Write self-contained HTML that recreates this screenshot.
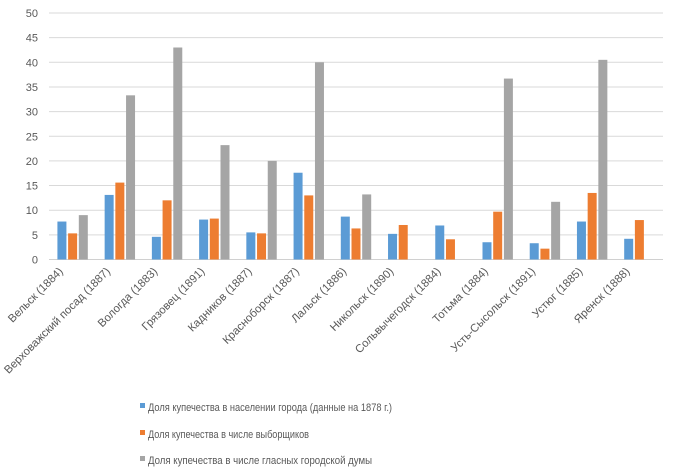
<!DOCTYPE html>
<html><head><meta charset="utf-8">
<style>
html,body{margin:0;padding:0;background:#fff;}
svg{display:block;font-family:"Liberation Sans","DejaVu Sans",sans-serif;}
</style></head>
<body>
<svg id="chart" width="677" height="469" viewBox="0 0 677 469">
<g id="grid"></g>
<g id="yaxis"></g>
<g id="bars"></g>
<g id="xaxis"></g>
<g id="legend"></g>
</svg>
<script>
const categories = ["Вельск (1884)","Верховажский посад (1887)","Вологда (1883)","Грязовец (1891)","Кадников (1887)","Красноборск (1887)","Лальск (1886)","Никольск (1890)","Сольвычегодск (1884)","Тотьма (1884)","Усть-Сысольск (1891)","Устюг (1885)","Яренск (1888)"];
const seriesPopulation = [7.7,13.1,4.6,8.1,5.5,17.6,8.7,5.2,6.9,3.5,3.3,7.7,4.2];
const seriesElectors = [5.3,15.6,12.0,8.3,5.3,13.0,6.3,7.0,4.1,9.7,2.2,13.5,8.0];
const seriesDuma = [9.0,33.3,43.0,23.2,20.0,40.0,13.2,null,null,36.7,11.7,40.5,null];
const yTicks = [0,5,10,15,20,25,30,35,40,45,50];
const seriesNames = ["Доля купечества в населении города (данные на 1878 г.)","Доля купечества в числе выборщиков","Доля купечества в числе гласных городской думы"];
const seriesColors = ["#5b9bd5","#ed7d31","#a5a5a5"];

const NS="http://www.w3.org/2000/svg";
const X0=49, X1=663, Y0=259.5, Y1=13, YMAX=50;
const bandW=(X1-X0)/categories.length;
function y(v){return Y0-(v/YMAX)*(Y0-Y1);}
function xc(i){return X0+bandW*(i+0.5);}
function mk(tag,attrs,parent){const e=document.createElementNS(NS,tag);for(const k in attrs)e.setAttribute(k,attrs[k]);parent.appendChild(e);return e;}

const grid=document.getElementById('grid'), yaxis=document.getElementById('yaxis');
yTicks.forEach(t=>{
  const l=mk('line',{x1:X0,x2:X1,y1:y(t),y2:y(t),stroke:t===0?'#d0d0d0':'#d9d9d9','stroke-width':1},grid);
  
  
  const tx=mk('text',{x:38,y:y(t)+4,'text-anchor':'end','font-size':11,fill:'#595959'},yaxis);
  tx.textContent=t;
  
  
});

const bars=document.getElementById('bars');
const all=[seriesPopulation,seriesElectors,seriesDuma];
const bw=9, gap=1.7;
categories.forEach((c,i)=>{
  all.forEach((s,k)=>{
    const v=s[i]; if(v==null) return;
    const x=xc(i)+(k-1)*(bw+gap)-bw/2;
    const r=mk('rect',{x:x,y:y(v),width:bw,height:Y0-y(v),fill:seriesColors[k]},bars);
    
    
  });
});

const xaxis=document.getElementById('xaxis');
categories.forEach((c,i)=>{
  const ax=xc(i)-9, ay=272;
  const t=mk('text',{x:ax,y:ay,'text-anchor':'end','font-size':11.3,fill:'#595959',transform:`rotate(-45 ${ax} ${ay})`},xaxis);
  t.textContent=c;
  
  
});

const legend=document.getElementById('legend');
const legY=[407,434,460];
seriesNames.forEach((n,k)=>{
  const r=mk('rect',{x:140,y:legY[k]-4,width:5,height:5,fill:seriesColors[k]},legend);
  
  
  const t=mk('text',{x:148,y:legY[k]+4,'font-size':11,fill:'#595959'},legend);
  t.textContent=n;
  const widths=[244,161,224];
  t.setAttribute('textLength',widths[k]);
  t.setAttribute('lengthAdjust','spacingAndGlyphs');
  
  
});
</script>
</body></html>
